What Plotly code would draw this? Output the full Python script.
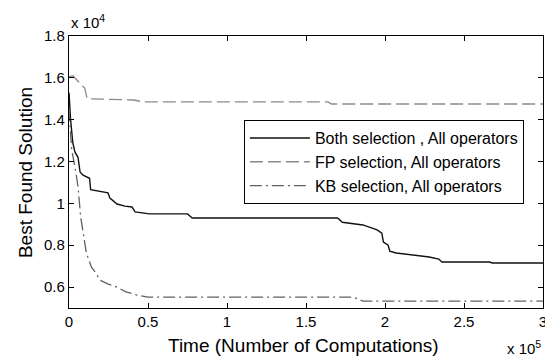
import plotly.graph_objects as go

# x in units of 1e5 computations, y in units of 1e4
both_x = [0, 0.01, 0.024, 0.038, 0.057, 0.07, 0.089, 0.13, 0.137, 0.215, 0.247, 0.259, 0.29, 0.304, 0.354, 0.399, 0.418, 0.5, 0.51, 0.75, 0.78, 1.70, 1.73, 1.86, 1.95, 1.98, 1.99, 2.02, 2.03, 2.07, 2.2, 2.28, 2.34, 2.36, 2.66, 2.68, 3.0]
both_y = [1.53, 1.40, 1.29, 1.245, 1.22, 1.15, 1.135, 1.12, 1.065, 1.055, 1.05, 1.025, 1.006, 0.997, 0.987, 0.983, 0.959, 0.954, 0.95, 0.95, 0.93, 0.93, 0.91, 0.897, 0.873, 0.858, 0.815, 0.80, 0.772, 0.763, 0.753, 0.744, 0.734, 0.72, 0.72, 0.715, 0.715]

fp_x = [0, 0.025, 0.10, 0.115, 0.41, 0.47, 1.64, 1.66, 3.0]
fp_y = [1.604, 1.61, 1.55, 1.50, 1.494, 1.485, 1.485, 1.475, 1.475]

kb_x = [0, 0.017, 0.038, 0.057, 0.074, 0.089, 0.11, 0.142, 0.17, 0.196, 0.245, 0.304, 0.36, 0.43, 0.5, 0.53, 1.80, 1.86, 3.0]
kb_y = [1.45, 1.255, 1.175, 1.08, 0.935, 0.86, 0.763, 0.695, 0.667, 0.633, 0.615, 0.60, 0.577, 0.562, 0.552, 0.552, 0.552, 0.533, 0.533]

x_ticks = [0, 0.5, 1, 1.5, 2, 2.5, 3]
x_tick_text = ["0", "0.5", "1", "1.5", "2", "2.5", "3"]
y_ticks = [0.6, 0.8, 1.0, 1.2, 1.4, 1.6, 1.8]
y_tick_text = ["0.6", "0.8", "1", "1.2", "1.4", "1.6", "1.8"]

font = "Liberation Sans, Arial, sans-serif"

fig = go.Figure()
fig.add_trace(go.Scatter(x=both_x, y=both_y, mode="lines", name="Both selection , All operators",
                         line=dict(color="#111111", width=1.4)))
fig.add_trace(go.Scatter(x=fp_x, y=fp_y, mode="lines", name="FP selection, All operators",
                         line=dict(color="#8a8a8a", width=1.3, dash="13px,5px")))
fig.add_trace(go.Scatter(x=kb_x, y=kb_y, mode="lines", name="KB selection, All operators",
                         line=dict(color="#606060", width=1.3, dash="12px,4px,2px,4px")))

axis_common = dict(showline=True, linecolor="black", linewidth=1.3, mirror="ticks",
                   ticks="inside", ticklen=5, tickcolor="black", showgrid=False, zeroline=False,
                   automargin=False, ticklabeloverflow="allow",
                   tickfont=dict(family=font, size=15, color="black"))

fig.update_xaxes(range=[0, 3], tickvals=x_ticks, ticktext=x_tick_text, **axis_common)
fig.update_yaxes(range=[0.5, 1.8], tickvals=y_ticks, ticktext=y_tick_text, **axis_common)

title_font = dict(family=font, size=19, color="black")
fig.add_annotation(x=0.494, y=0, xref="paper", yref="paper", xanchor="center", yanchor="middle",
                   text="Time (Number of Computations)", showarrow=False, yshift=-37, font=title_font)
fig.add_annotation(x=0, y=0.496, xref="paper", yref="paper", xanchor="center", yanchor="middle",
                   text="Best Found Solution", showarrow=False, xshift=-44, textangle=-90, font=title_font)

fig.add_annotation(x=0, y=1, xref="paper", yref="paper", xanchor="left", yanchor="bottom",
                   text="x 10<sup>4</sup>", showarrow=False, yshift=3,
                   font=dict(family=font, size=15, color="black"))
fig.add_annotation(x=1, y=0, xref="paper", yref="paper", xanchor="right", yanchor="bottom",
                   text="x 10<sup>5</sup>", showarrow=False, yshift=-51,
                   font=dict(family=font, size=15, color="black"))

fig.update_layout(
    template="none",
    width=545, height=360,
    margin=dict(l=69, r=2, t=36, b=52, autoexpand=False),
    paper_bgcolor="white", plot_bgcolor="white",
    showlegend=True,
    legend=dict(x=0.369, y=0.691, xanchor="left", yanchor="top",
                bgcolor="white", bordercolor="black", borderwidth=1,
                font=dict(family=font, size=16, color="black"),
                itemwidth=60, tracegroupgap=0),
)

fig.write_html("out.html", config={"displayModeBar": False},
               post_script="document.body.style.margin='0';")
